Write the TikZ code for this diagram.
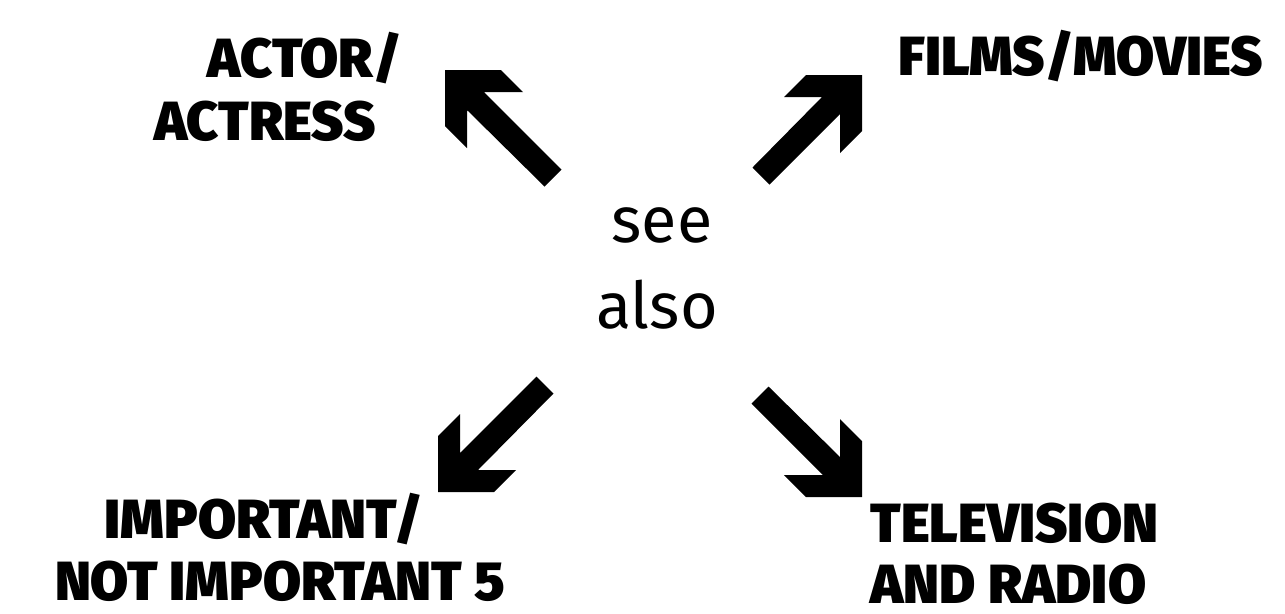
\documentclass[tikz,border=0pt]{standalone}
\usepackage{fontspec}
\setmainfont{Fira Sans}
\newfontfamily\heavyfont{Fira Sans Black}
\tikzset{
  lbl/.style={font=\heavyfont\fontsize{15.7}{19}\selectfont, inner sep=0pt, anchor=base},
  seetext/.style={font=\fontsize{18.4}{22}\selectfont, inner sep=0pt, anchor=base},
  pics/seearrow/.style={code={
    \fill (0,0) -- (-56,0) -- (-78,22) -- (-40,22) -- (-#1-8.5,#1-8.5)
      -- (-#1+8.5,#1+8.5) -- (-22,39) -- (-22,78) -- (0,56) -- cycle;
  }}
}
\begin{document}
\begin{tikzpicture}[x=0.1mm,y=-0.1mm]
  \useasboundingbox (0,0) rectangle (1285,613);
  \node[seetext] (see) at (662,242) {see};
  \node[seetext] (also) at (657,328) {also};
  \pic[rotate=90] at (445,70) {seearrow=108};
  \pic at (862,75) {seearrow=101};
  \pic[rotate=180] at (438,492) {seearrow=107};
  \pic[rotate=270] at (862,497) {seearrow=102};
  \node[lbl] (actor) at (305,77) {ACTOR/};
  \node[lbl] (actress) at (265,140) {ACTRESS};
  \node[lbl] (films) at (1081,75) {FILMS/MOVIES};
  \node[lbl] (important) at (264,538) {IMPORTANT/};
  \node[lbl] (notimportant) at (280,600) {NOT IMPORTANT 5};
  \node[lbl,anchor=base west] (television) at (870,542) {TELEVISION};
  \node[lbl,anchor=base west] (radio) at (870,603) {AND RADIO};
\end{tikzpicture}
\end{document}
